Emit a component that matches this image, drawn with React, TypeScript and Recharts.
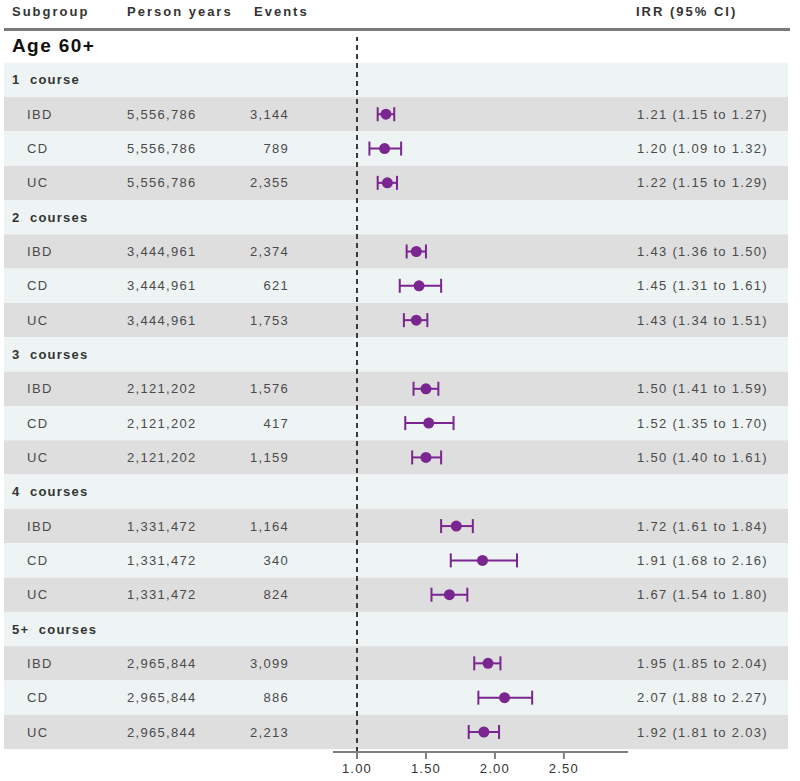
import React from "react";
import { ScatterChart, Scatter, XAxis, YAxis, ErrorBar, ReferenceLine } from "recharts";

// Forest plot of incidence rate ratios, age 60+, by number of courses
const groups = ["1 course", "2 courses", "3 courses", "4 courses", "5+ courses"];
const subtypes = ["IBD", "CD", "UC"];
const personYears = [5556786, 3444961, 2121202, 1331472, 2965844];
const events = [
  [3144, 789, 2355],
  [2374, 621, 1753],
  [1576, 417, 1159],
  [1164, 340, 824],
  [3099, 886, 2213],
];
const irr = [
  [1.21, 1.2, 1.22],
  [1.43, 1.45, 1.43],
  [1.5, 1.52, 1.5],
  [1.72, 1.91, 1.67],
  [1.95, 2.07, 1.92],
];
const lower = [
  [1.15, 1.09, 1.15],
  [1.36, 1.31, 1.34],
  [1.41, 1.35, 1.4],
  [1.61, 1.68, 1.54],
  [1.85, 1.88, 1.81],
];
const upper = [
  [1.27, 1.32, 1.29],
  [1.5, 1.61, 1.51],
  [1.59, 1.7, 1.61],
  [1.84, 2.16, 1.8],
  [2.04, 2.27, 2.03],
];
const xTicks = [1, 1.5, 2, 2.5];

const PURPLE = "#7b2590";
const GRAY_BAND = "#dedede";
const LIGHT_BAND = "#eef3f4";
const ROW_H = 34.3;

type Row = {
  kind: "title" | "group" | "item";
  label: string;
  py?: string;
  ev?: string;
  ci?: string;
  band: string;
};

const fmt = (n: number) => n.toLocaleString("en-US");
const f2 = (n: number) => n.toFixed(2);

// table rows (index = y value) and the plotted points
const rows: Row[] = [{ kind: "title", label: "Age 60+", band: "#ffffff" }];
const points: { x: number; y: number; err: number[] }[] = [];
groups.forEach((g, gi) => {
  rows.push({ kind: "group", label: g, band: LIGHT_BAND });
  subtypes.forEach((s, si) => {
    const est = irr[gi][si];
    const lo = lower[gi][si];
    const hi = upper[gi][si];
    points.push({ x: est, y: rows.length, err: [est - lo, hi - est] });
    rows.push({
      kind: "item",
      label: s,
      py: fmt(personYears[gi]),
      ev: fmt(events[gi][si]),
      ci: `${f2(est)} (${f2(lo)} to ${f2(hi)})`,
      band: si === 1 ? LIGHT_BAND : GRAY_BAND,
    });
  });
});
const rowIdx = rows.map((_, i) => i);

const FONT = "'Liberation Sans', Arial, sans-serif";
const txt = { fontFamily: FONT, fontSize: 13, letterSpacing: 1.3 };
const head = { ...txt, letterSpacing: 2 };

function renderRow(props: any) {
  const { y, payload } = props;
  const r = rows[Math.round(payload.value)];
  if (!r) return <g />;
  return (
    <g>
      <rect x={4} y={y - ROW_H / 2} width={784} height={ROW_H} fill={r.band} />
      {r.kind === "title" && (
        <g>
          <g fill="#333" fontWeight="bold">
            <text x={12} y={y - ROW_H} dy="0.35em" style={head}>
              Subgroup
            </text>
            <text x={127} y={y - ROW_H} dy="0.35em" style={head}>
              Person years
            </text>
            <text x={254} y={y - ROW_H} dy="0.35em" style={head}>
              Events
            </text>
            <text x={636} y={y - ROW_H} dy="0.35em" style={head}>
              IRR (95% CI)
            </text>
          </g>
          <line x1={4} x2={790} y1={y - 16} y2={y - 16} stroke="#7a7a7a" strokeWidth={3} />
          <text
            x={12}
            y={y}
            dy="0.35em"
            fill="#111"
            fontWeight="bold"
            style={{ ...txt, fontSize: 19, letterSpacing: 1.4 }}
          >
            {r.label}
          </text>
        </g>
      )}
      {r.kind === "group" && (
        <text x={12} y={y} dy="0.35em" fill="#333" fontWeight="bold" style={{ ...txt, letterSpacing: 1.2 }}>
          {r.label.replace(" ", "\u00a0\u00a0")}
        </text>
      )}
      {r.kind === "item" && (
        <g fill="#4a4a4a">
          <text x={27} y={y} dy="0.35em" style={txt}>
            {r.label}
          </text>
          <text x={127} y={y} dy="0.35em" style={txt}>
            {r.py}
          </text>
          <text x={289} y={y} dy="0.35em" textAnchor="end" style={txt}>
            {r.ev}
          </text>
          <text x={637} y={y} dy="0.35em" style={txt}>
            {r.ci}
          </text>
        </g>
      )}
    </g>
  );
}

const Dot = (props: any) => <circle cx={props.cx} cy={props.cy} r={5.5} fill={PURPLE} />;
const NoDot = () => <g />;

const W = 800;
const H = 781;
const MARGIN = { top: 37, right: 172, bottom: 0, left: 332 };
const Y_DOMAIN: [number, number] = [-0.25, 20.583];
const X_DOMAIN: [number, number] = [0.826, 2.965];
const layer: React.CSSProperties = { position: "absolute", left: 0, top: 0 };

export default function App() {
  return (
    <div style={{ position: "absolute", left: 0, top: 0, width: W, height: H, background: "#fff" }}>
      {/* table layer: row bands and text columns, drawn as y-axis ticks */}
      <div style={layer}>
        <ScatterChart width={W} height={H} margin={MARGIN}>
          <YAxis
            type="number"
            dataKey="y"
            domain={Y_DOMAIN}
            ticks={rowIdx}
            interval={0}
            reversed
            width={1}
            axisLine={false}
            tickLine={false}
            tick={renderRow}
            allowDataOverflow
          />
          <XAxis type="number" dataKey="x" domain={X_DOMAIN} allowDataOverflow height={29} tick={false} axisLine={false} tickLine={false} />
          <Scatter data={points} shape={<NoDot />} isAnimationActive={false} />
        </ScatterChart>
      </div>
      {/* plot layer: reference line, estimates and confidence intervals */}
      <div style={layer}>
        <ScatterChart width={W} height={H} margin={MARGIN}>
          <YAxis type="number" dataKey="y" domain={Y_DOMAIN} reversed width={1} axisLine={false} tickLine={false} tick={false} allowDataOverflow />
          <XAxis
            type="number"
            dataKey="x"
            domain={X_DOMAIN}
            ticks={xTicks}
            tickFormatter={f2}
            allowDataOverflow
            height={29}
            stroke="#808080"
            strokeWidth={2}
            tickSize={7}
            tickMargin={5}
            tick={{ fill: "#333", fontSize: 13, fontFamily: FONT, letterSpacing: 1.2 }}
          />
          <ReferenceLine x={1} stroke="#3a3a3a" strokeWidth={2} strokeDasharray="5 4" />
          <Scatter data={points} shape={<Dot />} isAnimationActive={false}>
            <ErrorBar dataKey="err" direction="x" width={7} strokeWidth={2} stroke={PURPLE} />
          </Scatter>
        </ScatterChart>
      </div>
    </div>
  );
}
